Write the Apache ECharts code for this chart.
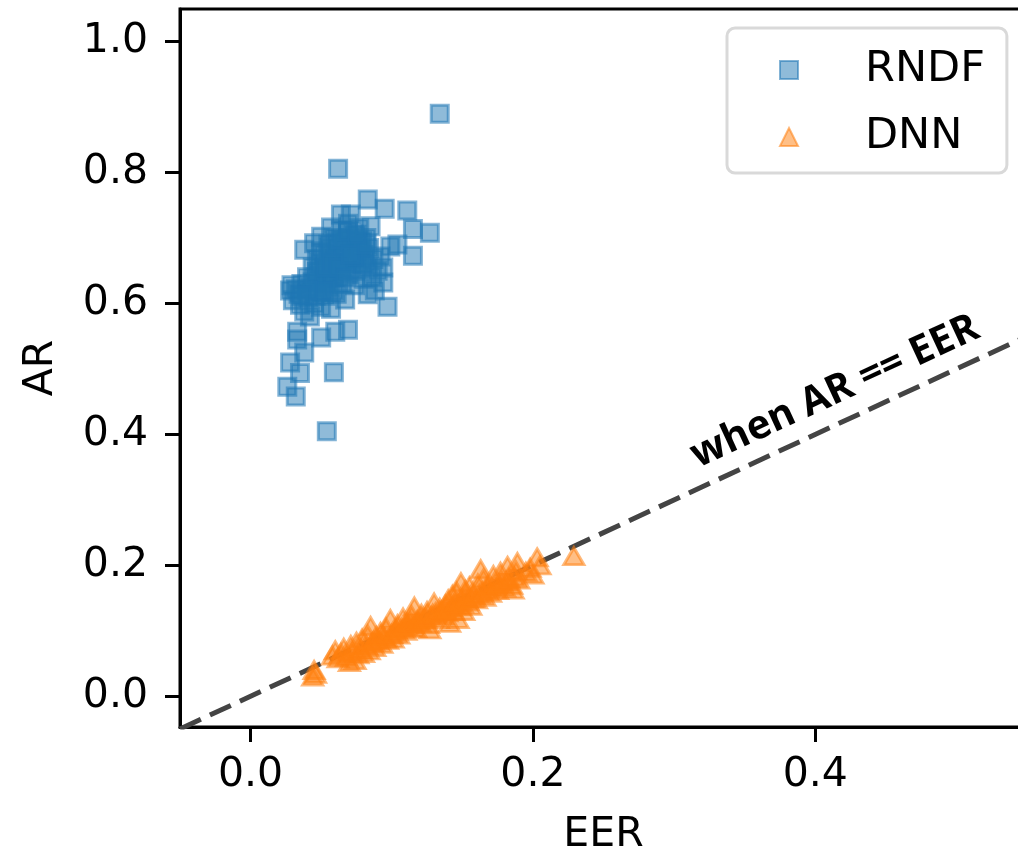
<!DOCTYPE html>
<html>
<head>
<meta charset="utf-8">
<script src="https://cdn.jsdelivr.net/npm/echarts@6/dist/echarts.min.js"></script>
<style>
html,body{margin:0;padding:0;background:#fff;}
#main{width:1018px;height:857px;}
</style>
</head>
<body>
<div id="main"></div>
<script>
// ---- data ----
const seriesNames = ['RNDF', 'DNN'];
const xTicks = [0.0, 0.2, 0.4];
const yTicks = [0.0, 0.2, 0.4, 0.6, 0.8, 1.0];
const xLimits = [-0.05, 0.55];
const yLimits = [-0.047, 1.05];
const refLineX = [-0.05, 0.55];
const refLineY = [-0.05, 0.55];
const annotationText = 'when AR == EER';
const annotationAt = [0.414, 0.465];

const rndfEER = [0.030,0.032,0.034,0.036,0.035,0.038,0.040,0.041,0.042,0.043,0.044,0.045,0.046,0.047,0.048,0.049,0.050,0.050,0.051,0.052,
  0.053,0.054,0.055,0.056,0.057,0.057,0.058,0.059,0.060,0.061,0.062,0.063,0.064,0.065,0.065,0.066,0.067,0.068,0.069,0.070,
  0.071,0.072,0.073,0.074,0.075,0.076,0.077,0.078,0.079,0.080,0.081,0.082,0.083,0.084,0.086,0.087,0.088,0.090,0.092,0.085,
  0.038,0.045,0.050,0.057,0.064,0.071,0.028,0.029,
  0.044,0.047,0.049,0.052,0.054,0.056,0.058,0.060,0.061,0.063,0.066,0.068,0.070,0.072,0.074,0.076,0.078,0.080,0.053,0.059,
  0.064,0.069,0.073,0.077,0.046,0.051,0.057,0.062,0.067,0.071,0.040,0.036,0.082,0.075,
  0.062,0.083,0.095,0.111,0.115,0.127,0.115,0.099,0.104,0.094,0.094,0.097,0.083,0.069,0.060,0.050,0.033,0.033,0.028,0.035,
  0.026,0.032,0.059,0.054,0.038,0.134];
const rndfAR = [0.605,0.622,0.615,0.630,0.598,0.588,0.640,0.610,0.580,0.625,0.655,0.600,0.640,0.668,0.618,0.650,0.595,0.680,0.632,0.660,
  0.612,0.645,0.690,0.625,0.672,0.592,0.655,0.700,0.640,0.615,0.683,0.662,0.712,0.630,0.650,0.695,0.606,0.675,0.722,0.645,
  0.690,0.660,0.705,0.628,0.680,0.650,0.715,0.668,0.695,0.638,0.672,0.700,0.655,0.685,0.640,0.668,0.620,0.650,0.672,0.718,
  0.682,0.692,0.702,0.716,0.736,0.736,0.620,0.628,
  0.632,0.648,0.662,0.675,0.630,0.685,0.640,0.668,0.692,0.650,0.680,0.662,0.700,0.688,0.670,0.695,0.682,0.660,0.655,0.620,
  0.698,0.710,0.672,0.685,0.612,0.618,0.662,0.655,0.640,0.675,0.620,0.612,0.690,0.705,
  0.806,0.759,0.745,0.742,0.714,0.708,0.673,0.687,0.690,0.655,0.632,0.595,0.614,0.560,0.557,0.548,0.557,0.545,0.510,0.494,
  0.473,0.458,0.495,0.405,0.525,0.890];

const dnnEER = [0.044,0.045,0.046,
  0.058,0.060,0.062,0.064,0.066,0.068,0.070,0.071,0.072,0.074,0.075,0.076,0.078,0.079,0.080,0.082,0.083,0.084,0.085,0.086,0.088,0.089,
  0.090,0.092,0.093,0.095,0.096,0.097,0.099,0.100,0.101,0.103,0.104,0.105,0.107,0.108,0.110,0.111,0.112,0.114,0.115,0.116,0.117,0.118,
  0.120,0.121,0.123,0.125,0.126,0.127,0.128,0.130,0.131,0.133,0.134,0.136,0.138,0.139,0.140,0.141,0.142,0.143,0.144,0.145,0.146,0.147,
  0.148,0.149,0.150,0.151,0.152,0.154,0.155,0.156,0.158,0.160,0.161,0.163,0.164,0.165,0.166,0.168,0.170,0.172,0.174,0.175,0.177,0.178,
  0.180,0.182,0.183,0.185,0.186,0.188,0.189,0.190,0.195,0.198,0.200,0.203,0.205,0.229,
  0.087,0.094,0.102,0.109,0.113,0.119,0.124,0.129,0.135,0.137,0.144,0.150,0.153,0.157,0.162,0.167,0.171,0.176,0.181,0.187];
const dnnAR = [0.030,0.040,0.034,
  0.062,0.070,0.058,0.066,0.074,0.060,0.052,0.078,0.068,0.055,0.083,0.064,0.072,0.088,0.066,0.078,0.094,0.070,0.107,0.082,0.075,0.092,
  0.085,0.098,0.080,0.090,0.105,0.086,0.118,0.095,0.088,0.102,0.110,0.094,0.104,0.120,0.100,0.112,0.106,0.124,0.110,0.137,0.104,0.116,
  0.112,0.126,0.118,0.130,0.110,0.102,0.122,0.143,0.128,0.118,0.135,0.124,0.140,0.128,0.148,0.112,0.136,0.155,0.130,0.145,0.160,0.118,
  0.138,0.174,0.150,0.130,0.162,0.145,0.168,0.138,0.155,0.148,0.172,0.194,0.160,0.180,0.152,0.168,0.158,0.185,0.170,0.162,0.190,0.175,
  0.166,0.199,0.180,0.170,0.163,0.192,0.205,0.178,0.190,0.196,0.186,0.212,0.200,0.214,
  0.084,0.092,0.098,0.108,0.114,0.116,0.120,0.126,0.130,0.132,0.140,0.142,0.150,0.150,0.156,0.162,0.166,0.172,0.176,0.182];

// ---- build ----
const zip = (a, b) => a.map((v, i) => [v, b[i]]);
const FONT = 'DejaVu Sans';
const chart = echarts.init(document.getElementById('main'), null, {renderer: 'canvas'});

const axisCommon = {
  axisLine: {show: true, onZero: false, lineStyle: {color: '#000', width: 3}},
  axisTick: {show: true, inside: false, length: 15, lineStyle: {color: '#000', width: 3}},
  splitLine: {show: false},
  nameTextStyle: {fontFamily: FONT, fontSize: 41, color: '#000'}
};

const option = {
  animation: false,
  backgroundColor: '#fff',
  grid: {left: 180, top: 9, right: -9, bottom: 130, show: true, borderColor: '#000', borderWidth: 3,
         containLabel: false, outerBoundsMode: 'none'},
  legend: {
    data: seriesNames,
    orient: 'vertical',
    left: 727, top: 28,
    padding: [18, 22, 12, 52],
    itemWidth: 18, itemHeight: 18, itemGap: 19,
    backgroundColor: '#fff',
    borderColor: '#d9d9d9', borderWidth: 3, borderRadius: 8,
    formatter: n => '{g|}' + n,
    textStyle: {fontFamily: FONT, fontSize: 43, color: '#000', lineHeight: 48,
      rich: {g: {width: 62}}}
  },
  xAxis: Object.assign({}, axisCommon, {
    type: 'value', min: xLimits[0], max: xLimits[1],
    name: 'EER', nameLocation: 'middle', nameGap: 88,
    axisTick: Object.assign({}, axisCommon.axisTick, {customValues: xTicks}),
    axisLabel: {customValues: xTicks, formatter: v => v.toFixed(1), fontFamily: FONT, fontSize: 41, color: '#000', margin: 28}
  }),
  yAxis: Object.assign({}, axisCommon, {
    type: 'value', min: yLimits[0], max: yLimits[1],
    name: 'AR', nameLocation: 'middle', nameGap: 118, nameRotate: 90,
    axisTick: Object.assign({}, axisCommon.axisTick, {customValues: yTicks}),
    axisLabel: {customValues: yTicks, formatter: v => v.toFixed(1), fontFamily: FONT, fontSize: 41, color: '#000', margin: 32}
  }),
  series: [
    {
      name: 'ref', type: 'line', data: zip(refLineX, refLineY), symbol: 'none', clip: true, z: 1,
      lineStyle: {color: '#444', width: 5, type: [23, 10]}, silent: true
    },
    {
      name: seriesNames[0], type: 'scatter', symbol: 'rect', symbolSize: 17, z: 3,
      data: zip(rndfEER, rndfAR),
      itemStyle: {color: 'rgba(31,119,180,0.5)', borderColor: 'rgba(31,119,180,0.55)', borderWidth: 3, opacity: 1}
    },
    {
      name: seriesNames[1], type: 'scatter', symbol: 'triangle', symbolSize: [20, 17], z: 3,
      data: zip(dnnEER, dnnAR),
      itemStyle: {color: 'rgba(255,127,14,0.5)', borderColor: 'rgba(255,127,14,0.55)', borderWidth: 3, opacity: 1}
    }
  ]
};
chart.setOption(option);

const p = chart.convertToPixel({gridIndex: 0}, annotationAt);
const p0 = chart.convertToPixel({gridIndex: 0}, [refLineX[0], refLineY[0]]);
const p1 = chart.convertToPixel({gridIndex: 0}, [refLineX[1], refLineY[1]]);
const ang = Math.atan2(p0[1] - p1[1], p1[0] - p0[0]);
chart.setOption({
  graphic: [{
    type: 'text', x: p[0], y: p[1], rotation: ang, z: 10,
    style: {text: annotationText, fontFamily: 'Open Sans', fontWeight: 'bold', fontSize: 40,
      fill: '#000', align: 'center', verticalAlign: 'middle'}
  }]
});
</script>
</body>
</html>
